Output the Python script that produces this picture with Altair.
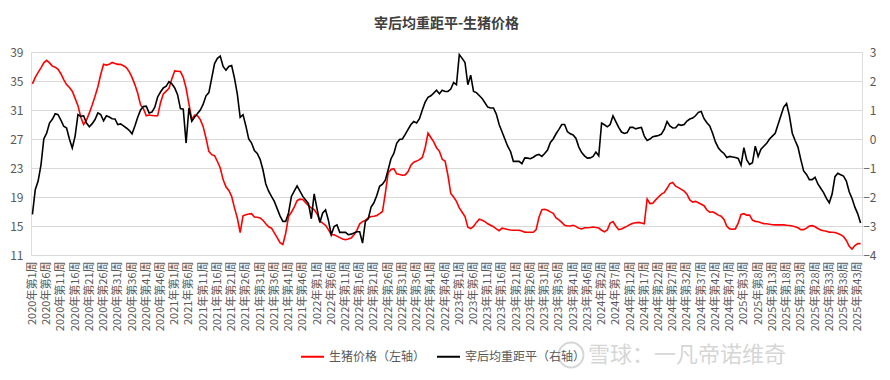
import json
import altair as alt
import pandas as pd

TITLE = "宰后均重距平-生猪价格"
SERIES_PRICE = "生猪价格（左轴）"
SERIES_WEIGHT = "宰后均重距平（右轴）"
WATERMARK = "雪球：一凡帝诺维奇"

tick_labels = (
    [f"2020年第{w}周" for w in [1, 6, 11, 16, 21, 26, 31, 36, 41, 46]]
    + [f"2021年第{w}周" for w in [1, 6, 11, 16, 21, 26, 31, 36, 41, 46]]
    + [f"2022年第{w}周" for w in [1, 6, 11, 16, 21, 26, 31, 36, 41, 46]]
    + [f"2023年第{w}周" for w in [1, 6, 11, 16, 21, 26, 31, 36, 41, 46]]
    + [f"2024年第{w}周" for w in [2, 7, 12, 17, 22, 27, 32, 37, 42, 47]]
    + [f"2025年第{w}周" for w in [3, 8, 13, 18, 23, 28, 33, 38, 43]]
)

# 生猪价格 (left axis)
price = [
    34.6, 35.5, 36.2, 36.8, 37.5, 37.85, 37.5, 37.05, 36.9, 36.6,
    36.0, 35.2, 34.5, 34.1, 33.6, 32.6, 31.6, 30.0, 29.0, 29.6,
    30.6, 31.7, 32.9, 34.2, 35.9, 37.3, 37.2, 37.3, 37.55, 37.4,
    37.3, 37.3, 37.1, 36.85, 36.3, 35.5, 34.5, 33.3, 31.7, 31.2,
    30.2, 30.3, 30.25, 30.2, 30.2, 32.0, 33.2, 33.6, 34.0, 35.3,
    36.4, 36.35, 36.3, 35.5, 34.0, 31.8, 29.7, 30.3, 30.2, 29.67,
    28.7, 27.1, 25.3, 24.84, 24.7, 23.9, 23.0, 21.4, 20.4, 19.9,
    19.1, 17.5, 16.1, 14.1, 16.4, 16.56, 16.65, 16.7, 16.25, 16.2,
    16.1, 15.8, 15.3, 14.9, 14.7, 14.05, 13.4, 12.7, 12.45, 14.0,
    16.3, 16.9, 17.6, 18.5, 18.7, 18.65, 18.2, 17.8, 17.5, 17.25,
    16.7, 15.7, 15.4, 15.1, 14.5, 13.8, 13.8, 13.6, 13.4, 13.2,
    13.1, 13.2, 13.35, 13.8, 14.4, 15.3, 15.6, 15.8, 16.1, 16.3,
    16.35, 16.45, 16.7, 17.0, 19.5, 22.3, 22.8, 22.9, 22.2, 22.1,
    22.0, 22.05, 22.5, 23.4, 23.8, 23.95, 24.15, 24.45, 25.8, 27.8,
    27.2, 26.6, 25.8, 25.3, 24.2, 23.95, 22.0, 19.5, 19.0, 18.4,
    17.5, 16.9, 16.3, 14.85, 14.65, 14.95, 15.5, 15.95, 15.8, 15.6,
    15.3, 15.1, 14.9, 14.6, 14.35, 14.7, 14.62, 14.52, 14.45, 14.42,
    14.42, 14.41, 14.3, 14.15, 14.13, 14.13, 14.13, 14.5, 16.2, 17.25,
    17.3, 17.17, 16.95, 16.75, 16.1, 15.85, 15.5, 15.1, 15.0, 15.0,
    15.1, 14.95, 14.68, 14.6, 14.75, 14.75, 14.8, 14.86, 14.8, 14.72,
    14.42, 14.2, 14.45, 15.4, 15.6, 15.0, 14.5, 14.58, 14.8, 14.98,
    15.2, 15.38, 15.45, 15.5, 15.42, 15.3, 18.72, 18.1, 18.15, 18.6,
    19.0, 19.4, 19.6, 20.2, 20.85, 21.0, 20.5, 20.3, 20.05, 19.8,
    19.4, 18.6, 18.3, 18.4, 18.2, 18.0, 17.8, 17.2, 16.9, 16.95,
    16.75, 16.5, 16.35, 15.9, 14.95, 14.6, 14.55, 14.6, 15.4, 16.6,
    16.7, 16.5, 16.5, 15.8, 15.64, 15.58, 15.45, 15.33, 15.3, 15.25,
    15.18, 15.15, 15.15, 15.17, 15.15, 15.1, 15.07, 15.0, 14.9, 14.75,
    14.5, 14.5, 14.7, 15.0, 15.05, 14.9, 14.65, 14.45, 14.35, 14.28,
    14.15, 14.13, 14.1, 13.95, 13.8, 13.55, 13.0, 12.2, 11.83, 12.3,
    12.57, 12.57,
]

# 宰后均重距平 (right axis)
weight = [
    -2.6, -1.75, -1.45, -0.9, 0.0, 0.2, 0.55, 0.68, 0.87, 0.84,
    0.65, 0.44, 0.38, 0.0, -0.31, 0.1, 0.84, 0.78, 0.80, 0.55,
    0.42, 0.53, 0.67, 0.90, 0.84, 0.63, 0.80, 0.76, 0.70, 0.69,
    0.50, 0.52, 0.45, 0.38, 0.30, 0.18, 0.45, 0.75, 1.0, 1.12,
    1.13, 0.9, 0.93, 1.1, 1.45, 1.62, 1.76, 1.82, 1.98, 1.9,
    1.76, 1.53, 1.05, 1.03, -0.14, 1.07, 0.61, 0.76, 0.88, 1.0,
    1.2, 1.49, 1.6, 2.1, 2.6, 2.78, 2.86, 2.5, 2.37, 2.5,
    2.53, 2.1, 1.55, 0.75, 0.84, 0.45, 0.0, -0.14, -0.4, -0.5,
    -0.7, -1.06, -1.55, -1.8, -1.98, -2.15, -2.4, -2.65, -2.84, -2.84,
    -2.55, -1.98, -1.8, -1.62, -1.8, -1.98, -2.1, -2.23, -2.75, -1.89,
    -2.4, -2.88, -2.55, -2.44, -2.8, -3.3, -3.02, -2.96, -3.22, -3.22,
    -3.22, -3.3, -3.28, -3.24, -3.2, -3.2, -3.59, -2.84, -2.75, -2.35,
    -2.2, -1.95, -1.63, -1.56, -1.42, -1.06, -0.68, -0.5, -0.15, -0.02,
    0.0, 0.16, 0.33, 0.5, 0.6, 0.55, 0.7, 1.0, 1.27, 1.44,
    1.49, 1.58, 1.68, 1.56, 1.68, 1.64, 1.64, 1.72, 1.95, 1.87,
    2.91, 2.78, 2.64, 1.87, 2.2, 1.64, 1.6, 1.5, 1.4, 1.25,
    1.1, 1.07, 1.07, 0.86, 0.5, 0.25, 0.0, -0.25, -0.43, -0.77,
    -0.77, -0.77, -0.85, -0.65, -0.66, -0.68, -0.63, -0.56, -0.53, -0.6,
    -0.5, -0.38, -0.12, 0.0, 0.18, 0.33, 0.5, 0.5, 0.25, 0.18,
    0.14, 0.02, -0.28, -0.47, -0.58, -0.66, -0.65, -0.6, -0.45, -0.58,
    0.55, 0.49, 0.42, 0.5, 0.8, 0.6, 0.4, 0.24, 0.19, 0.22,
    0.4, 0.4, 0.35, 0.38, 0.4, 0.1, -0.05, 0.0, 0.08, 0.1,
    0.12, 0.17, 0.33, 0.6, 0.45, 0.38, 0.39, 0.5, 0.47, 0.5,
    0.62, 0.69, 0.72, 0.8, 0.92, 0.95, 0.7, 0.56, 0.45, 0.2,
    -0.1, -0.3, -0.42, -0.5, -0.64, -0.6, -0.62, -0.64, -0.67, -0.9,
    -0.3, -0.72, -0.88, -0.82, -0.25, -0.6, -0.35, -0.25, -0.15, 0.0,
    0.1, 0.2, 0.5, 0.8, 1.1, 1.22, 0.8, 0.2, -0.05, -0.28,
    -0.71, -1.1, -1.22, -1.4, -1.4, -1.32, -1.55, -1.7, -1.85, -2.05,
    -2.2, -1.9, -1.3, -1.18, -1.23, -1.28, -1.45, -1.82, -2.05, -2.35,
    -2.58, -2.9,
]

n = min(len(price), len(weight))
df = pd.DataFrame({"idx": list(range(n)), "price": price[:n], "weight": weight[:n]})

FONT = "Noto Sans CJK SC"
GREY = "#595959"

label_expr = json.dumps(tick_labels, ensure_ascii=False) + "[round(datum.value / 5)]"

x_enc = alt.X(
    "idx:Q",
    scale=alt.Scale(domain=[-0.5, n - 0.5], nice=False, zero=False),
    axis=alt.Axis(
        values=list(range(0, 5 * len(tick_labels), 5)),
        labelExpr=label_expr,
        labelAngle=-90,
        labelAlign="right",
        labelBaseline="middle",
        labelFontSize=11,
        labelColor=GREY,
        labelFont=FONT,
        labelPadding=6,
        labelOverlap=False,
        labelFlush=False,
        ticks=False,
        domain=False,
        grid=False,
        title=None,
    ),
)

color_scale = alt.Scale(domain=[SERIES_PRICE, SERIES_WEIGHT], range=["#ff0000", "#000000"])
legend = alt.Legend(
    orient="none",
    legendX=269,
    legendY=292,
    direction="horizontal",
    title=None,
    symbolType="stroke",
    symbolSize=529,
    symbolStrokeWidth=2,
    labelFontSize=12,
    labelColor=GREY,
    labelFont=FONT,
    labelOffset=4,
    columnPadding=7,
)

base = alt.Chart(df)

red = base.transform_calculate(series=f"'{SERIES_PRICE}'").mark_line(strokeWidth=1.6).encode(
    x=x_enc,
    y=alt.Y(
        "price:Q",
        scale=alt.Scale(domain=[11, 39], nice=False, zero=False),
        axis=alt.Axis(
            values=[11, 15, 19, 23, 27, 31, 35, 39],
            orient="left",
            grid=True,
            gridColor="#d9d9d9",
            gridWidth=1,
            domain=False,
            ticks=False,
            labelFontSize=12,
            labelColor=GREY,
            labelFont=FONT,
            labelPadding=8,
            title=None,
        ),
    ),
    color=alt.Color("series:N", scale=color_scale, legend=legend),
)

black = base.transform_calculate(series=f"'{SERIES_WEIGHT}'").mark_line(strokeWidth=1.6).encode(
    x=x_enc,
    y=alt.Y(
        "weight:Q",
        scale=alt.Scale(domain=[-4, 3], nice=False, zero=False),
        axis=alt.Axis(
            values=[-4, -3, -2, -1, 0, 1, 2, 3],
            orient="right",
            grid=False,
            domain=False,
            ticks=False,
            labelAlign="right",
            labelFontSize=12,
            labelColor=GREY,
            labelFont=FONT,
            labelPadding=14,
            title=None,
        ),
    ),
    color=alt.Color("series:N", scale=color_scale, legend=legend),
)

wm_text = alt.Chart(pd.DataFrame({"t": [WATERMARK]})).mark_text(
    align="left", baseline="middle", fontSize=22, color="#d6d6d6", font=FONT
).encode(x=alt.value(557), y=alt.value(303), text="t:N")

wm_logo = alt.Chart(pd.DataFrame({"t": [WATERMARK]})).mark_point(
    shape="circle", filled=False, size=620, stroke="#d6d6d6", strokeWidth=2, opacity=1
).encode(x=alt.value(540), y=alt.value(303))

chart = (
    alt.layer(red, black, wm_logo, wm_text)
    .resolve_scale(y="independent")
    .properties(
        width=831,
        height=203,
        autosize=alt.AutoSizeParams(type="none"),
        padding={"left": 23, "top": 44, "right": 16, "bottom": 117},
        title=alt.TitleParams(
            TITLE,
            fontSize=14,
            fontWeight="bold",
            color="#404040",
            font=FONT,
            anchor="middle",
            offset=15,
        ),
    )
    .configure_view(stroke=None)
    .configure(background="white")
)

chart.save("out.html", embed_options={"renderer": "svg", "actions": False})
